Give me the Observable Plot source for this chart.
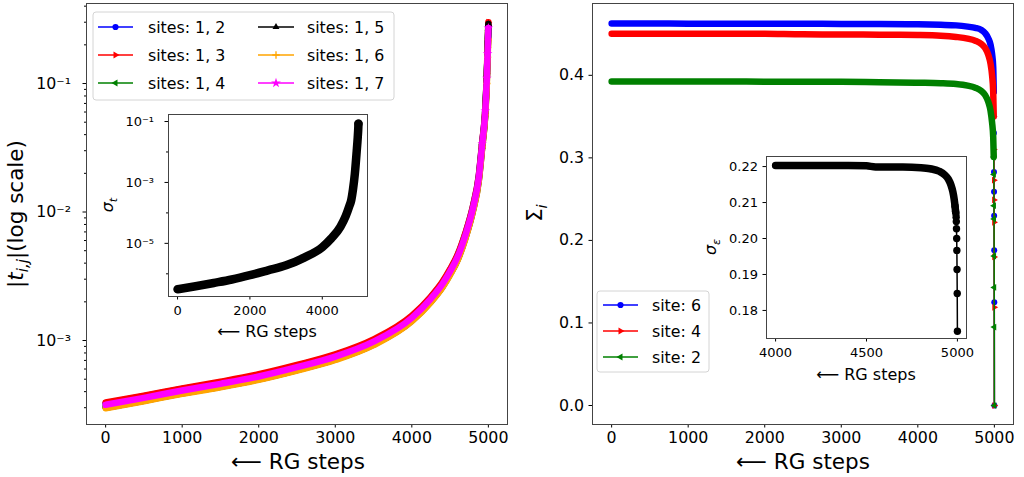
<!DOCTYPE html>
<html><head><meta charset="utf-8">
<script src="https://cdn.jsdelivr.net/npm/d3@7"></script>
<script src="https://cdn.jsdelivr.net/npm/@observablehq/plot@0.6"></script>
<style>
body{margin:0;background:#fff;}
#fig{position:relative;width:1024px;height:477px;overflow:hidden;font-family:"DejaVu Sans";background:#fff;}
</style></head><body><div id="fig"></div>
<script>
// ---------------- DATA ----------------
// Left panel: |t_ij| (log scale) vs RG steps
const stepsT = [0, 500, 1000, 1500, 2000, 2500, 3000, 3500, 4000, 4250, 4400, 4500, 4600, 4700, 4800, 4875, 4920, 4960, 4980, 4990, 5000];
const t12 = [3.25e-4, 3.68e-4, 4.19e-4, 4.72e-4, 5.39e-4, 6.37e-4, 7.70e-4, 1.006e-3, 1.54e-3, 2.18e-3, 2.82e-3, 3.54e-3, 4.62e-3, 6.78e-3, 1.11e-2, 1.90e-2, 3.49e-2, 6.2e-2, 0.115, 0.18, 0.28];
const t13 = [3.29e-4, 3.72e-4, 4.24e-4, 4.78e-4, 5.46e-4, 6.45e-4, 7.80e-4, 1.02e-3, 1.56e-3, 2.20e-3, 2.86e-3, 3.59e-3, 4.68e-3, 6.86e-3, 1.12e-2, 1.92e-2, 3.54e-2, 6.3e-2, 0.12, 0.19, 0.30];
const t14 = [3.13e-4, 3.54e-4, 4.04e-4, 4.55e-4, 5.20e-4, 6.14e-4, 7.43e-4, 9.70e-4, 1.485e-3, 2.10e-3, 2.72e-3, 3.42e-3, 4.46e-3, 6.53e-3, 1.07e-2, 1.83e-2, 3.37e-2, 6.0e-2, 0.115, 0.17, 0.26];
const t15 = [3.00e-4, 3.40e-4, 3.88e-4, 4.37e-4, 4.99e-4, 5.89e-4, 7.13e-4, 9.31e-4, 1.425e-3, 2.01e-3, 2.61e-3, 3.28e-3, 4.28e-3, 6.27e-3, 1.03e-2, 1.76e-2, 3.23e-2, 5.8e-2, 0.11, 0.18, 0.29];
const t16 = [2.97e-4, 3.37e-4, 3.84e-4, 4.32e-4, 4.94e-4, 5.83e-4, 7.05e-4, 9.21e-4, 1.41e-3, 1.99e-3, 2.59e-3, 3.24e-3, 4.23e-3, 6.20e-3, 1.02e-2, 1.74e-2, 3.20e-2, 5.7e-2, 0.10, 0.16, 0.22];
const t17 = [3.16e-4, 3.58e-4, 4.08e-4, 4.60e-4, 5.25e-4, 6.20e-4, 7.50e-4, 9.80e-4, 1.50e-3, 2.12e-3, 2.75e-3, 3.45e-3, 4.50e-3, 6.60e-3, 1.08e-2, 1.85e-2, 3.40e-2, 6.1e-2, 0.11, 0.17, 0.27];
const namesT = ["sites: 1, 2", "sites: 1, 3", "sites: 1, 4", "sites: 1, 5", "sites: 1, 6", "sites: 1, 7"];

// Left inset: sigma_t vs RG steps
const stepsSigT = [0, 500, 1000, 1500, 2000, 2500, 3000, 3500, 4000, 4250, 4500, 4650, 4750, 4800, 4850, 4900, 4950, 4980, 4995, 5000];
const sigmaT = [3.1e-7, 3.9e-7, 5.0e-7, 6.5e-7, 9.0e-7, 1.3e-6, 1.9e-6, 3.4e-6, 7.5e-6, 1.45e-5, 3.5e-5, 8e-5, 1.7e-4, 2.6e-4, 6e-4, 1.9e-3, 1.0e-2, 3e-2, 6e-2, 8.5e-2];

// Right panel: Sigma_i vs RG steps
const stepsS = [0, 500, 1000, 1500, 2000, 2500, 3000, 3500, 4000, 4300, 4500, 4650, 4750, 4830, 4880, 4920, 4950, 4970, 4985, 4992, 4994, 4995, 4996, 4997, 4998, 4999, 5000];
const site6 = [0.4627, 0.4627, 0.4626, 0.4626, 0.4625, 0.4624, 0.4623, 0.4621, 0.4618, 0.4612, 0.4605, 0.459, 0.4575, 0.455, 0.451, 0.445, 0.437, 0.426, 0.41, 0.38, 0.33, 0.283, 0.259, 0.230, 0.188, 0.125, 0.0];
const site4 = [0.4505, 0.4505, 0.4504, 0.4504, 0.4503, 0.4496, 0.4495, 0.4492, 0.4488, 0.448, 0.4465, 0.4445, 0.442, 0.438, 0.433, 0.425, 0.414, 0.40, 0.38, 0.35, 0.31, 0.273, 0.249, 0.222, 0.180, 0.119, 0.0];
const site2 = [0.3925, 0.3925, 0.3924, 0.3924, 0.3923, 0.3922, 0.3921, 0.3916, 0.391, 0.3905, 0.3895, 0.3875, 0.385, 0.381, 0.376, 0.368, 0.357, 0.343, 0.325, 0.301, 0.28, 0.242, 0.226, 0.181, 0.143, 0.095, 0.0];
const namesS = ["site: 6", "site: 4", "site: 2"];

// Right inset: sigma_eps vs RG steps
const stepsSigE = [4000, 4200, 4400, 4500, 4550, 4700, 4800, 4850, 4900, 4930, 4950, 4965, 4975, 4982, 4987, 4990, 4992, 4993, 4994, 4995, 4996, 4997, 4998, 4999, 5000];
const sigmaE = [0.2203, 0.2203, 0.2203, 0.2202, 0.2199, 0.2199, 0.2197, 0.2194, 0.2187, 0.2177, 0.2165, 0.2148, 0.2130, 0.2110, 0.2090, 0.2075, 0.2069, 0.2059, 0.2047, 0.2027, 0.2000, 0.1967, 0.1914, 0.1847, 0.1742];

// Tick values
const xTicksMain = [0, 1000, 2000, 3000, 4000, 5000];
const yTicksT = [1e-3, 1e-2, 1e-1];
const xTicksInsetT = [0, 2000, 4000];
const yTicksInsetT = [1e-5, 1e-3, 1e-1];
const yTicksS = [0, 0.1, 0.2, 0.3, 0.4];
const xTicksInsetE = [4000, 4500, 5000];
const yTicksInsetE = [0.18, 0.19, 0.20, 0.21, 0.22];

// ---------------- STYLE ----------------
const FONT = "DejaVu Sans";
const colorsT = ["#0000ff", "#ff0000", "#008000", "#000000", "#ffa500", "#ff00ff"];
const colorsS = ["#0000ff", "#ff0000", "#008000"];

function symR(size) { return Math.sqrt(size / Math.PI); }
const triRight = {draw(c, s){ const r = symR(s)*1.3; c.moveTo(r,0); c.lineTo(-r*0.5,-r*0.866); c.lineTo(-r*0.5,r*0.866); c.closePath(); }};
const triLeft  = {draw(c, s){ const r = symR(s)*1.3; c.moveTo(-r,0); c.lineTo(r*0.5,-r*0.866); c.lineTo(r*0.5,r*0.866); c.closePath(); }};
const triUp    = {draw(c, s){ const r = symR(s)*1.3; c.moveTo(0,-r); c.lineTo(-r*0.866,r*0.5); c.lineTo(r*0.866,r*0.5); c.closePath(); }};
const plusSym  = {draw(c, s){ const r = symR(s)*1.2; c.moveTo(-r,0); c.lineTo(r,0); c.moveTo(0,-r); c.lineTo(0,r); }};
const symsT = [d3.symbolCircle, triRight, triLeft, triUp, plusSym, d3.symbolStar];
const strokeOnlyT = [false, false, false, false, true, false];
const symsS = [d3.symbolCircle, triRight, triLeft];

const sup = {"-":"\u207B","0":"\u2070","1":"\u00B9","2":"\u00B2","3":"\u00B3","4":"\u2074","5":"\u2075","6":"\u2076","7":"\u2077","8":"\u2078","9":"\u2079"};
const fmtPow = d => "10" + String(Math.round(Math.log10(d))).split("").map(ch => sup[ch]).join("");
function minorLog(lo, hi) { const out = []; for (let k = -8; k <= 0; k++) for (let m = 2; m <= 9; m++) { const v = m * Math.pow(10, k); if (v >= lo && v <= hi) out.push(v); } return out; }

const fig = document.getElementById("fig");
function place(el, left, top) {
  el.style.position = "absolute"; el.style.left = left + "px"; el.style.top = top + "px";
  el.style.maxWidth = "none"; el.style.background = "transparent"; el.style.overflow = "visible";
  fig.appendChild(el);
}
const baseStyle = {background: "transparent", fontFamily: FONT, color: "#000", overflow: "visible"};

// ---------------- LEFT MAIN ----------------
const rowsT = namesT.flatMap((name, i) => stepsT.map((step, j) => ({series: name, idx: i, step, value: [t12, t13, t14, t15, t16, t17][i][j]})));
const domT = [2.22e-4, 0.4195];
const leftMarks = [
  Plot.frame({fill: "white", stroke: null}),
  Plot.axisX({ticks: xTicksMain, tickSize: 3.5, tickPadding: 4, fontSize: 15.8, tickFormat: d => String(d), label: null}),
  Plot.axisY({ticks: yTicksT, tickSize: 3.5, tickPadding: 12, fontSize: 15.8, tickFormat: fmtPow, label: null}),
  Plot.axisY({ticks: minorLog(domT[0], domT[1]), tickSize: 2, tickFormat: () => "", label: null})
];
namesT.forEach((name, i) => {
  leftMarks.push(Plot.line(rowsT, {filter: d => d.idx === i, x: "step", y: "value", stroke: colorsT[i], strokeWidth: 6.5, curve: "monotone-x", strokeLinecap: "round", strokeLinejoin: "round"}));
  leftMarks.push(Plot.dot(rowsT, strokeOnlyT[i]
    ? {filter: d => d.idx === i && d.step >= 4900, x: "step", y: "value", symbol: symsT[i], r: 3, stroke: colorsT[i], strokeWidth: 1.5, fill: "none"}
    : {filter: d => d.idx === i && d.step >= 4900, x: "step", y: "value", symbol: symsT[i], r: 3, fill: colorsT[i], stroke: "none"}));
});
leftMarks.push(Plot.frame({stroke: "#444"}));
const leftMain = Plot.plot({
  width: 520, height: 477, marginLeft: 86, marginRight: 13, marginTop: 3, marginBottom: 53,
  style: baseStyle,
  x: {domain: [-250, 5250], axis: null},
  y: {type: "log", domain: domT, axis: null},
  marks: leftMarks
});
place(leftMain, 0, 0);

// ---------------- LEFT INSET ----------------
const rowsSigT = stepsSigT.map((step, j) => ({step, value: sigmaT[j]}));
const domSigT = [1.8e-7, 0.17];
const leftInset = Plot.plot({
  width: 280, height: 250, marginLeft: 68, marginRight: 13, marginTop: 14, marginBottom: 54,
  style: baseStyle,
  x: {domain: [-250, 5250], axis: null},
  y: {type: "log", domain: domSigT, axis: null},
  marks: [
    Plot.frame({fill: "white", stroke: null}),
    Plot.axisX({ticks: xTicksInsetT, tickSize: 3.5, tickPadding: 6, fontSize: 13, tickFormat: d => String(d), label: null}),
    Plot.axisY({ticks: yTicksInsetT, tickSize: 3.5, tickPadding: 11, fontSize: 13, tickFormat: fmtPow, label: null}),
    Plot.axisY({ticks: [1e-6, 1e-4, 1e-2], tickSize: 2, tickFormat: () => "", label: null}),
    Plot.line(rowsSigT, {x: "step", y: "value", stroke: "#000", strokeWidth: 8.5, curve: "monotone-x", strokeLinecap: "round", strokeLinejoin: "round"}),
    Plot.dot(rowsSigT, {filter: d => d.step === 5000, x: "step", y: "value", r: 4.2, fill: "#000"}),
    Plot.frame({stroke: "#444"})
  ]
});
place(leftInset, 100, 100);

// ---------------- RIGHT MAIN ----------------
const rowsS = namesS.flatMap((name, i) => stepsS.map((step, j) => ({series: name, idx: i, step, value: [site6, site4, site2][i][j]})));
const rightMarks = [
  Plot.frame({fill: "white", stroke: null}),
  Plot.axisX({ticks: xTicksMain, tickSize: 3.5, tickPadding: 4, fontSize: 15.8, tickFormat: d => String(d), label: null}),
  Plot.axisY({ticks: yTicksS, tickSize: 3.5, tickPadding: 5, fontSize: 15.8, tickFormat: d3.format(".1f"), label: null})
];
namesS.forEach((name, i) => {
  rightMarks.push(Plot.line(rowsS, {filter: d => d.idx === i && d.step <= 4992, x: "step", y: "value", stroke: colorsS[i], strokeWidth: 6.5, curve: "monotone-x", strokeLinecap: "round", strokeLinejoin: "round"}));
  rightMarks.push(Plot.line(rowsS, {filter: d => d.idx === i, x: "step", y: "value", stroke: colorsS[i], strokeWidth: 1.5}));
  rightMarks.push(Plot.dot(rowsS, {filter: d => d.idx === i && d.step >= 4992, x: "step", y: "value", symbol: symsS[i], r: 3, fill: colorsS[i], stroke: "none"}));
});
rightMarks.push(Plot.frame({stroke: "#444"}));
const rightMain = Plot.plot({
  width: 504, height: 477, marginLeft: 72, marginRight: 11, marginTop: 3, marginBottom: 53,
  style: baseStyle,
  x: {domain: [-250, 5250], axis: null},
  y: {domain: [-0.023, 0.487], axis: null},
  marks: rightMarks
});
place(rightMain, 520, 0);

// ---------------- RIGHT INSET ----------------
const rowsSigE = stepsSigE.map((step, j) => ({step, value: sigmaE[j]}));
const rightInset = Plot.plot({
  width: 300, height: 260, marginLeft: 76, marginRight: 24, marginTop: 16, marginBottom: 62,
  style: baseStyle,
  x: {domain: [3950, 5050], axis: null},
  y: {domain: [0.1722, 0.2228], axis: null},
  marks: [
    Plot.frame({fill: "white", stroke: null}),
    Plot.axisX({ticks: xTicksInsetE, tickSize: 3.5, tickPadding: 6, fontSize: 13, tickFormat: d => String(d), label: null}),
    Plot.axisY({ticks: yTicksInsetE, tickSize: 3.5, tickPadding: 5, fontSize: 13, tickFormat: d3.format(".2f"), label: null}),
    Plot.line(rowsSigE, {filter: d => d.step <= 4990, x: "step", y: "value", stroke: "#000", strokeWidth: 7.5, curve: "monotone-x", strokeLinecap: "round", strokeLinejoin: "round"}),
    Plot.line(rowsSigE, {x: "step", y: "value", stroke: "#000", strokeWidth: 1.5}),
    Plot.dot(rowsSigE, {filter: d => d.step >= 4985, x: "step", y: "value", r: 3.7, fill: "#000"}),
    Plot.frame({stroke: "#444"})
  ]
});
place(rightInset, 690, 140);

// ---------------- OVERLAY: labels & legends ----------------
const ov = d3.create("svg").attr("width", 1024).attr("height", 477)
  .style("position", "absolute").style("left", "0px").style("top", "0px")
  .style("font-family", FONT).style("pointer-events", "none");

function xLabel(cx, by, size) {
  ov.append("text").attr("x", cx).attr("y", by).attr("text-anchor", "middle").attr("font-size", size)
    .text("\u27F5 RG steps");
}
xLabel(298, 469, 21.5);
xLabel(803, 469, 21.5);
xLabel(267, 337, 16);
xLabel(866, 380, 16);

function yLabel(bx, cy, size, build) {
  const t = ov.append("text").attr("transform", `translate(${bx},${cy}) rotate(-90)`).attr("text-anchor", "middle").attr("font-size", size);
  build(t, size);
}
yLabel(23, 214, 21.5, (t, s) => {
  t.append("tspan").text("|");
  t.append("tspan").attr("font-style", "italic").text("t");
  t.append("tspan").attr("font-style", "italic").attr("font-size", s * 0.7).attr("dy", s * 0.22).text("i,j");
  t.append("tspan").attr("dy", -s * 0.22).text("|(log scale)");
});
yLabel(542, 213, 21, (t, s) => {
  t.append("tspan").text("\u03A3");
  t.append("tspan").attr("font-style", "italic").attr("font-size", s * 0.7).attr("dy", s * 0.22).text("i");
});
yLabel(113, 205, 16, (t, s) => {
  t.append("tspan").attr("font-style", "italic").text("\u03C3");
  t.append("tspan").attr("font-style", "italic").attr("font-size", s * 0.7).attr("dy", s * 0.22).text("t");
});
yLabel(716, 247, 16, (t, s) => {
  t.append("tspan").attr("font-style", "italic").text("\u03C3");
  t.append("tspan").attr("font-style", "italic").attr("font-size", s * 0.7).attr("dy", s * 0.22).text("\u03B5");
});

function legend(box, rows) {
  ov.append("rect").attr("x", box.x).attr("y", box.y).attr("width", box.w).attr("height", box.h).attr("rx", 3)
    .attr("fill", "white").attr("fill-opacity", 0.8).attr("stroke", "#d4d4d4");
  rows.forEach(r => {
    ov.append("line").attr("x1", r.x1).attr("x2", r.x2).attr("y1", r.y).attr("y2", r.y).attr("stroke", r.color).attr("stroke-width", 1.6);
    const p = ov.append("path").attr("d", d3.symbol(r.sym, 30)()).attr("transform", `translate(${(r.x1 + r.x2) / 2},${r.y})`);
    if (r.strokeOnly) p.attr("fill", "none").attr("stroke", r.color).attr("stroke-width", 1.3);
    else p.attr("fill", r.color);
    ov.append("text").attr("x", r.tx).attr("y", r.y + 5.7).attr("font-size", 15.8).text(r.label);
  });
}
const rowYT = [27, 55, 83];
legend({x: 93, y: 12, w: 301, h: 88}, namesT.map((name, i) => {
  const col = Math.floor(i / 3), row = i % 3;
  return {label: name, color: colorsT[i], sym: symsT[i], strokeOnly: strokeOnlyT[i],
    x1: col ? 258 : 98, x2: col ? 294 : 133, tx: col ? 307 : 148, y: rowYT[row]};
}));
const rowYS = [305, 331, 357];
legend({x: 597, y: 291, w: 112, h: 81}, namesS.map((name, i) => ({
  label: name, color: colorsS[i], sym: symsS[i], strokeOnly: false, x1: 603, x2: 638, tx: 652, y: rowYS[i]
})));

fig.appendChild(ov.node());
</script></body></html>
